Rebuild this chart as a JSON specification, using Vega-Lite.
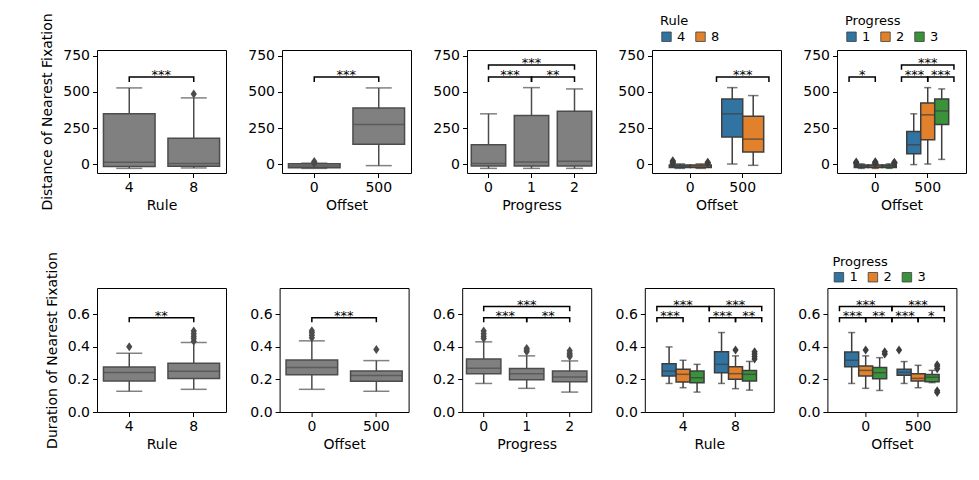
{
"$schema":"https://vega.github.io/schema/vega-lite/v6.json",
"background":"white",
"padding":{"left":40,"top":12,"right":5,"bottom":5},
"config":{
 "font":"DejaVu Sans",
 "view":{"stroke":"black","strokeWidth":1},
 "axis":{"grid":false,"domain":false,"tickColor":"black","tickSize":4.5,"tickWidth":1,"labelColor":"black","labelFontSize":14,"labelFont":"DejaVu Sans","titleFont":"DejaVu Sans","titleFontSize":14,"titleFontWeight":"normal","titleColor":"black","labelPadding":3,"labelAngle":0},
 "axisY":{"titlePadding":8},
 "axisX":{"titlePadding":4},
 "legend":{"orient":"none","direction":"horizontal","titleOrient":"top","titleFont":"DejaVu Sans","labelFont":"DejaVu Sans","titleFontSize":13,"titleFontWeight":"normal","titleColor":"black","labelFontSize":13,"labelColor":"black","symbolType":"square","symbolSize":90,"symbolStrokeColor":"#3d3d3d","symbolStrokeWidth":0.8,"columnPadding":8,"labelOffset":4,"titlePadding":2}
},
"datasets":{
 "box":[
  {"p":"t1","c":"4","lo":-28,"q1":-15,"med":15,"q3":349,"hi":528},
  {"p":"t1","c":"8","lo":-25,"q1":-14,"med":5,"q3":181,"hi":459},
  {"p":"t2","c":"0","lo":-28,"q1":-24,"med":-12,"q3":4,"hi":8},
  {"p":"t2","c":"500","lo":-9,"q1":138,"med":275,"q3":390,"hi":528},
  {"p":"t3","c":"0","lo":-28,"q1":-12,"med":5,"q3":135,"hi":349},
  {"p":"t3","c":"1","lo":-28,"q1":-12,"med":16,"q3":337,"hi":530},
  {"p":"t3","c":"2","lo":-28,"q1":-12,"med":21,"q3":367,"hi":521},
  {"p":"t4","c":"0","h":"4","lo":-28,"q1":-22,"med":-12,"q3":-4,"hi":3},
  {"p":"t4","c":"0","h":"8","lo":-28,"q1":-22,"med":-12,"q3":-4,"hi":3},
  {"p":"t4","c":"500","h":"4","lo":2,"q1":188,"med":349,"q3":452,"hi":530},
  {"p":"t4","c":"500","h":"8","lo":-7,"q1":85,"med":174,"q3":333,"hi":475},
  {"p":"t5","c":"0","h":"1","lo":-28,"q1":-22,"med":-12,"q3":-4,"hi":3},
  {"p":"t5","c":"0","h":"2","lo":-28,"q1":-22,"med":-12,"q3":-4,"hi":3},
  {"p":"t5","c":"0","h":"3","lo":-28,"q1":-22,"med":-12,"q3":-4,"hi":3},
  {"p":"t5","c":"500","h":"1","lo":-2,"q1":73,"med":135,"q3":227,"hi":349},
  {"p":"t5","c":"500","h":"2","lo":2,"q1":170,"med":342,"q3":424,"hi":530},
  {"p":"t5","c":"500","h":"3","lo":34,"q1":275,"med":369,"q3":452,"hi":521},
  {"p":"b1","c":"4","lo":0.127,"q1":0.19,"med":0.242,"q3":0.276,"hi":0.36},
  {"p":"b1","c":"8","lo":0.139,"q1":0.205,"med":0.25,"q3":0.299,"hi":0.426},
  {"p":"b2","c":"0","lo":0.139,"q1":0.229,"med":0.272,"q3":0.319,"hi":0.436},
  {"p":"b2","c":"500","lo":0.127,"q1":0.188,"med":0.223,"q3":0.252,"hi":0.315},
  {"p":"b3","c":"0","lo":0.175,"q1":0.235,"med":0.268,"q3":0.325,"hi":0.43},
  {"p":"b3","c":"1","lo":0.145,"q1":0.197,"med":0.235,"q3":0.266,"hi":0.344},
  {"p":"b3","c":"2","lo":0.122,"q1":0.186,"med":0.214,"q3":0.251,"hi":0.313},
  {"p":"b4","c":"4","h":"1","lo":0.175,"q1":0.221,"med":0.251,"q3":0.296,"hi":0.399},
  {"p":"b4","c":"4","h":"2","lo":0.149,"q1":0.184,"med":0.231,"q3":0.262,"hi":0.317},
  {"p":"b4","c":"4","h":"3","lo":0.122,"q1":0.18,"med":0.21,"q3":0.251,"hi":0.292},
  {"p":"b4","c":"8","h":"1","lo":0.175,"q1":0.241,"med":0.292,"q3":0.37,"hi":0.487},
  {"p":"b4","c":"8","h":"2","lo":0.143,"q1":0.2,"med":0.235,"q3":0.278,"hi":0.344},
  {"p":"b4","c":"8","h":"3","lo":0.134,"q1":0.19,"med":0.231,"q3":0.255,"hi":0.31},
  {"p":"b5","c":"0","h":"1","lo":0.175,"q1":0.278,"med":0.317,"q3":0.368,"hi":0.487},
  {"p":"b5","c":"0","h":"2","lo":0.145,"q1":0.221,"med":0.255,"q3":0.282,"hi":0.344},
  {"p":"b5","c":"0","h":"3","lo":0.132,"q1":0.204,"med":0.241,"q3":0.272,"hi":0.333},
  {"p":"b5","c":"500","h":"1","lo":0.175,"q1":0.225,"med":0.243,"q3":0.262,"hi":0.309},
  {"p":"b5","c":"500","h":"2","lo":0.149,"q1":0.19,"med":0.206,"q3":0.235,"hi":0.286},
  {"p":"b5","c":"500","h":"3","lo":0.18,"q1":0.185,"med":0.213,"q3":0.23,"hi":0.255}
 ],
 "out":[
  {"p":"t1","c":"8","v":486},
  {"p":"t2","c":"0","v":8},{"p":"t2","c":"0","v":13},{"p":"t2","c":"0","v":19},
  {"p":"t4","c":"0","h":"4","v":6},{"p":"t4","c":"0","h":"4","v":12},{"p":"t4","c":"0","h":"4","v":18},{"p":"t4","c":"0","h":"4","v":24},
  {"p":"t4","c":"0","h":"8","v":6},{"p":"t4","c":"0","h":"8","v":10},{"p":"t4","c":"0","h":"8","v":14},
  {"p":"t5","c":"0","h":"1","v":6},{"p":"t5","c":"0","h":"1","v":11},{"p":"t5","c":"0","h":"1","v":16},
  {"p":"t5","c":"0","h":"2","v":6},{"p":"t5","c":"0","h":"2","v":12},{"p":"t5","c":"0","h":"2","v":18},
  {"p":"t5","c":"0","h":"3","v":6},{"p":"t5","c":"0","h":"3","v":10},{"p":"t5","c":"0","h":"3","v":15},
  {"p":"b1","c":"4","v":0.4},
  {"p":"b1","c":"8","v":0.434},{"p":"b1","c":"8","v":0.45},{"p":"b1","c":"8","v":0.465},{"p":"b1","c":"8","v":0.48},{"p":"b1","c":"8","v":0.497},
  {"p":"b2","c":"0","v":0.455},{"p":"b2","c":"0","v":0.47},{"p":"b2","c":"0","v":0.485},{"p":"b2","c":"0","v":0.498},
  {"p":"b2","c":"500","v":0.383},
  {"p":"b3","c":"0","v":0.45},{"p":"b3","c":"0","v":0.465},{"p":"b3","c":"0","v":0.48},{"p":"b3","c":"0","v":0.497},
  {"p":"b3","c":"1","v":0.37},{"p":"b3","c":"1","v":0.38},{"p":"b3","c":"1","v":0.39},
  {"p":"b3","c":"2","v":0.34},{"p":"b3","c":"2","v":0.35},{"p":"b3","c":"2","v":0.36},{"p":"b3","c":"2","v":0.375},
  {"p":"b4","c":"8","h":"2","v":0.38},
  {"p":"b4","c":"8","h":"3","v":0.325},{"p":"b4","c":"8","h":"3","v":0.34},{"p":"b4","c":"8","h":"3","v":0.355},{"p":"b4","c":"8","h":"3","v":0.37},
  {"p":"b5","c":"0","h":"2","v":0.38},
  {"p":"b5","c":"0","h":"3","v":0.355},{"p":"b5","c":"0","h":"3","v":0.37},
  {"p":"b5","c":"500","h":"1","v":0.38},
  {"p":"b5","c":"500","h":"3","v":0.265},{"p":"b5","c":"500","h":"3","v":0.28},{"p":"b5","c":"500","h":"3","v":0.29},{"p":"b5","c":"500","h":"3","v":0.13},{"p":"b5","c":"500","h":"3","v":0.12}
 ],
 "brk":[
  {"p":"t1","b":"a","c":"4","v":569,"o":0},{"p":"t1","b":"a","c":"4","v":603,"o":1},{"p":"t1","b":"a","c":"8","v":603,"o":2},{"p":"t1","b":"a","c":"8","v":569,"o":3},
  {"p":"t2","b":"a","c":"0","v":569,"o":0},{"p":"t2","b":"a","c":"0","v":603,"o":1},{"p":"t2","b":"a","c":"500","v":603,"o":2},{"p":"t2","b":"a","c":"500","v":569,"o":3},
  {"p":"t3","b":"a","c":"0","v":569,"o":0},{"p":"t3","b":"a","c":"0","v":603,"o":1},{"p":"t3","b":"a","c":"1","v":603,"o":2},{"p":"t3","b":"a","c":"1","v":569,"o":3},
  {"p":"t3","b":"b","c":"1","v":569,"o":0},{"p":"t3","b":"b","c":"1","v":603,"o":1},{"p":"t3","b":"b","c":"2","v":603,"o":2},{"p":"t3","b":"b","c":"2","v":569,"o":3},
  {"p":"t3","b":"c","c":"0","v":654,"o":0},{"p":"t3","b":"c","c":"0","v":686,"o":1},{"p":"t3","b":"c","c":"2","v":686,"o":2},{"p":"t3","b":"c","c":"2","v":654,"o":3},
  {"p":"t4","b":"a","c":"500","h":"4","v":569,"o":0},{"p":"t4","b":"a","c":"500","h":"4","v":603,"o":1},{"p":"t4","b":"a","c":"500","h":"8","v":603,"o":2},{"p":"t4","b":"a","c":"500","h":"8","v":569,"o":3},
  {"p":"t5","b":"a","c":"0","h":"1","v":569,"o":0},{"p":"t5","b":"a","c":"0","h":"1","v":603,"o":1},{"p":"t5","b":"a","c":"0","h":"2","v":603,"o":2},{"p":"t5","b":"a","c":"0","h":"2","v":569,"o":3},
  {"p":"t5","b":"b","c":"500","h":"1","v":569,"o":0},{"p":"t5","b":"b","c":"500","h":"1","v":603,"o":1},{"p":"t5","b":"b","c":"500","h":"2","v":603,"o":2},{"p":"t5","b":"b","c":"500","h":"2","v":569,"o":3},
  {"p":"t5","b":"c","c":"500","h":"2","v":569,"o":0},{"p":"t5","b":"c","c":"500","h":"2","v":603,"o":1},{"p":"t5","b":"c","c":"500","h":"3","v":603,"o":2},{"p":"t5","b":"c","c":"500","h":"3","v":569,"o":3},
  {"p":"t5","b":"d","c":"500","h":"1","v":654,"o":0},{"p":"t5","b":"d","c":"500","h":"1","v":686,"o":1},{"p":"t5","b":"d","c":"500","h":"3","v":686,"o":2},{"p":"t5","b":"d","c":"500","h":"3","v":654,"o":3},
  {"p":"b1","b":"a","c":"4","v":0.55,"o":0},{"p":"b1","b":"a","c":"4","v":0.578,"o":1},{"p":"b1","b":"a","c":"8","v":0.578,"o":2},{"p":"b1","b":"a","c":"8","v":0.55,"o":3},
  {"p":"b2","b":"a","c":"0","v":0.55,"o":0},{"p":"b2","b":"a","c":"0","v":0.578,"o":1},{"p":"b2","b":"a","c":"500","v":0.578,"o":2},{"p":"b2","b":"a","c":"500","v":0.55,"o":3},
  {"p":"b3","b":"a","c":"0","v":0.55,"o":0},{"p":"b3","b":"a","c":"0","v":0.578,"o":1},{"p":"b3","b":"a","c":"1","v":0.578,"o":2},{"p":"b3","b":"a","c":"1","v":0.55,"o":3},
  {"p":"b3","b":"b","c":"1","v":0.55,"o":0},{"p":"b3","b":"b","c":"1","v":0.578,"o":1},{"p":"b3","b":"b","c":"2","v":0.578,"o":2},{"p":"b3","b":"b","c":"2","v":0.55,"o":3},
  {"p":"b3","b":"c","c":"0","v":0.618,"o":0},{"p":"b3","b":"c","c":"0","v":0.646,"o":1},{"p":"b3","b":"c","c":"2","v":0.646,"o":2},{"p":"b3","b":"c","c":"2","v":0.618,"o":3},
  {"p":"b4","b":"a","c":"4","h":"1","v":0.55,"o":0},{"p":"b4","b":"a","c":"4","h":"1","v":0.578,"o":1},{"p":"b4","b":"a","c":"4","h":"2","v":0.578,"o":2},{"p":"b4","b":"a","c":"4","h":"2","v":0.55,"o":3},
  {"p":"b4","b":"b","c":"4","h":"1","v":0.618,"o":0},{"p":"b4","b":"b","c":"4","h":"1","v":0.646,"o":1},{"p":"b4","b":"b","c":"4","h":"3","v":0.646,"o":2},{"p":"b4","b":"b","c":"4","h":"3","v":0.618,"o":3},
  {"p":"b4","b":"c","c":"8","h":"1","v":0.55,"o":0},{"p":"b4","b":"c","c":"8","h":"1","v":0.578,"o":1},{"p":"b4","b":"c","c":"8","h":"2","v":0.578,"o":2},{"p":"b4","b":"c","c":"8","h":"2","v":0.55,"o":3},
  {"p":"b4","b":"d","c":"8","h":"2","v":0.55,"o":0},{"p":"b4","b":"d","c":"8","h":"2","v":0.578,"o":1},{"p":"b4","b":"d","c":"8","h":"3","v":0.578,"o":2},{"p":"b4","b":"d","c":"8","h":"3","v":0.55,"o":3},
  {"p":"b4","b":"e","c":"8","h":"1","v":0.618,"o":0},{"p":"b4","b":"e","c":"8","h":"1","v":0.646,"o":1},{"p":"b4","b":"e","c":"8","h":"3","v":0.646,"o":2},{"p":"b4","b":"e","c":"8","h":"3","v":0.618,"o":3},
  {"p":"b5","b":"a","c":"0","h":"1","v":0.55,"o":0},{"p":"b5","b":"a","c":"0","h":"1","v":0.578,"o":1},{"p":"b5","b":"a","c":"0","h":"2","v":0.578,"o":2},{"p":"b5","b":"a","c":"0","h":"2","v":0.55,"o":3},
  {"p":"b5","b":"b","c":"0","h":"2","v":0.55,"o":0},{"p":"b5","b":"b","c":"0","h":"2","v":0.578,"o":1},{"p":"b5","b":"b","c":"0","h":"3","v":0.578,"o":2},{"p":"b5","b":"b","c":"0","h":"3","v":0.55,"o":3},
  {"p":"b5","b":"c","c":"0","h":"1","v":0.618,"o":0},{"p":"b5","b":"c","c":"0","h":"1","v":0.646,"o":1},{"p":"b5","b":"c","c":"0","h":"3","v":0.646,"o":2},{"p":"b5","b":"c","c":"0","h":"3","v":0.618,"o":3},
  {"p":"b5","b":"d","c":"500","h":"1","v":0.55,"o":0},{"p":"b5","b":"d","c":"500","h":"1","v":0.578,"o":1},{"p":"b5","b":"d","c":"500","h":"2","v":0.578,"o":2},{"p":"b5","b":"d","c":"500","h":"2","v":0.55,"o":3},
  {"p":"b5","b":"e","c":"500","h":"2","v":0.55,"o":0},{"p":"b5","b":"e","c":"500","h":"2","v":0.578,"o":1},{"p":"b5","b":"e","c":"500","h":"3","v":0.578,"o":2},{"p":"b5","b":"e","c":"500","h":"3","v":0.55,"o":3},
  {"p":"b5","b":"f","c":"500","h":"1","v":0.618,"o":0},{"p":"b5","b":"f","c":"500","h":"1","v":0.646,"o":1},{"p":"b5","b":"f","c":"500","h":"3","v":0.646,"o":2},{"p":"b5","b":"f","c":"500","h":"3","v":0.618,"o":3}
 ],
 "star":[
  {"p":"t1","c":"4","pr":"4-8","lab":"***","v":603},
  {"p":"t2","c":"0","pr":"0-500","lab":"***","v":603},
  {"p":"t3","c":"0","pr":"0-1","lab":"***","v":603},
  {"p":"t3","c":"1","pr":"1-2","lab":"**","v":603},
  {"p":"t3","c":"1","pr":"0-2","lab":"***","v":686},
  {"p":"t4","c":"500","pr":"4-8","lab":"***","v":603},
  {"p":"t5","c":"0","pr":"1-2","lab":"*","v":603},
  {"p":"t5","c":"500","pr":"1-2","lab":"***","v":603},
  {"p":"t5","c":"500","pr":"2-3","lab":"***","v":603},
  {"p":"t5","c":"500","pr":"1-3","lab":"***","v":686},
  {"p":"b1","c":"4","pr":"4-8","lab":"**","v":0.578},
  {"p":"b2","c":"0","pr":"0-500","lab":"***","v":0.578},
  {"p":"b3","c":"0","pr":"0-1","lab":"***","v":0.578},
  {"p":"b3","c":"1","pr":"1-2","lab":"**","v":0.578},
  {"p":"b3","c":"1","pr":"0-2","lab":"***","v":0.646},
  {"p":"b4","c":"4","pr":"1-2","lab":"***","v":0.578},
  {"p":"b4","c":"4","pr":"1-3","lab":"***","v":0.646},
  {"p":"b4","c":"8","pr":"1-2","lab":"***","v":0.578},
  {"p":"b4","c":"8","pr":"2-3","lab":"**","v":0.578},
  {"p":"b4","c":"8","pr":"1-3","lab":"***","v":0.646},
  {"p":"b5","c":"0","pr":"1-2","lab":"***","v":0.578},
  {"p":"b5","c":"0","pr":"2-3","lab":"**","v":0.578},
  {"p":"b5","c":"0","pr":"1-3","lab":"***","v":0.646},
  {"p":"b5","c":"500","pr":"1-2","lab":"***","v":0.578},
  {"p":"b5","c":"500","pr":"2-3","lab":"*","v":0.578},
  {"p":"b5","c":"500","pr":"1-3","lab":"***","v":0.646}
 ]
},
"resolve":{"scale":{"color":"independent"},"legend":{"color":"independent"}},
"spacing":38,
"vconcat":[
{"spacing":20,"resolve":{"scale":{"color":"independent"},"legend":{"color":"independent"}},
 "hconcat":[
 {"width":129,"height":123,"layer":[
  {"data":{"name":"box"},"transform":[{"filter":"datum.p=='t1'"}],
   "encoding":{"x":{"field":"c","type":"nominal","scale":{"paddingInner":0,"paddingOuter":0},"title":"Rule"}},
   "layer":[
    {"mark":{"type":"rule","color":"#4c4c4c","strokeWidth":1.5},"encoding":{"y":{"field":"lo","type":"quantitative","scale":{"domain":[-60,790],"nice":false,"zero":false},"axis":{"values":[0,250,500,750]},"title":"Distance of Nearest Fixation"},"y2":{"field":"hi"}}},
    {"mark":{"type":"bar","fill":"#808080","stroke":"#4c4c4c","strokeWidth":1.5,"width":{"band":0.8}},"encoding":{"y":{"field":"q1","type":"quantitative","scale":{"domain":[-60,790],"nice":false,"zero":false}},"y2":{"field":"q3"}}},
    {"mark":{"type":"tick","color":"#4c4c4c","thickness":1.5,"size":51},"encoding":{"y":{"field":"med","type":"quantitative","scale":{"domain":[-60,790],"nice":false,"zero":false}}}},
    {"mark":{"type":"tick","color":"#4c4c4c","thickness":1.5,"size":26},"encoding":{"y":{"field":"lo","type":"quantitative","scale":{"domain":[-60,790],"nice":false,"zero":false}}}},
    {"mark":{"type":"tick","color":"#4c4c4c","thickness":1.5,"size":26},"encoding":{"y":{"field":"hi","type":"quantitative","scale":{"domain":[-60,790],"nice":false,"zero":false}}}}
   ]},
  {"data":{"name":"out"},"transform":[{"filter":"datum.p=='t1'"}],"mark":{"type":"point","shape":"M0,-1L0.7,0L0,1L-0.7,0Z","filled":true,"opacity":1,"color":"#4c4c4c","size":80},"encoding":{"x":{"field":"c","type":"nominal"},"y":{"field":"v","type":"quantitative","scale":{"domain":[-60,790],"nice":false,"zero":false}}}},
  {"data":{"name":"brk"},"transform":[{"filter":"datum.p=='t1'"}],"mark":{"type":"line","color":"black","strokeWidth":1.5},"encoding":{"x":{"field":"c","type":"nominal"},"y":{"field":"v","type":"quantitative","scale":{"domain":[-60,790],"nice":false,"zero":false}},"detail":{"field":"b"},"order":{"field":"o"}}},
  {"data":{"name":"star"},"transform":[{"filter":"datum.p=='t1'"}],"mark":{"type":"text","dx":32,"dy":2,"baseline":"alphabetic","fontSize":13,"color":"black"},"encoding":{"x":{"field":"c","type":"nominal"},"y":{"field":"v","type":"quantitative","scale":{"domain":[-60,790],"nice":false,"zero":false}},"text":{"field":"lab"}}}
 ]},
 {"width":129,"height":123,"layer":[
  {"data":{"name":"box"},"transform":[{"filter":"datum.p=='t2'"}],
   "encoding":{"x":{"field":"c","type":"nominal","scale":{"paddingInner":0,"paddingOuter":0},"title":"Offset"}},
   "layer":[
    {"mark":{"type":"rule","color":"#4c4c4c","strokeWidth":1.5},"encoding":{"y":{"field":"lo","type":"quantitative","scale":{"domain":[-60,790],"nice":false,"zero":false},"axis":{"values":[0,250,500,750]},"title":null},"y2":{"field":"hi"}}},
    {"mark":{"type":"bar","fill":"#808080","stroke":"#4c4c4c","strokeWidth":1.5,"width":{"band":0.8}},"encoding":{"y":{"field":"q1","type":"quantitative","scale":{"domain":[-60,790],"nice":false,"zero":false}},"y2":{"field":"q3"}}},
    {"mark":{"type":"tick","color":"#4c4c4c","thickness":1.5,"size":51},"encoding":{"y":{"field":"med","type":"quantitative","scale":{"domain":[-60,790],"nice":false,"zero":false}}}},
    {"mark":{"type":"tick","color":"#4c4c4c","thickness":1.5,"size":26},"encoding":{"y":{"field":"lo","type":"quantitative","scale":{"domain":[-60,790],"nice":false,"zero":false}}}},
    {"mark":{"type":"tick","color":"#4c4c4c","thickness":1.5,"size":26},"encoding":{"y":{"field":"hi","type":"quantitative","scale":{"domain":[-60,790],"nice":false,"zero":false}}}}
   ]},
  {"data":{"name":"out"},"transform":[{"filter":"datum.p=='t2'"}],"mark":{"type":"point","shape":"M0,-1L0.7,0L0,1L-0.7,0Z","filled":true,"opacity":1,"color":"#4c4c4c","size":80},"encoding":{"x":{"field":"c","type":"nominal"},"y":{"field":"v","type":"quantitative","scale":{"domain":[-60,790],"nice":false,"zero":false}}}},
  {"data":{"name":"brk"},"transform":[{"filter":"datum.p=='t2'"}],"mark":{"type":"line","color":"black","strokeWidth":1.5},"encoding":{"x":{"field":"c","type":"nominal"},"y":{"field":"v","type":"quantitative","scale":{"domain":[-60,790],"nice":false,"zero":false}},"detail":{"field":"b"},"order":{"field":"o"}}},
  {"data":{"name":"star"},"transform":[{"filter":"datum.p=='t2'"}],"mark":{"type":"text","dx":32,"dy":2,"baseline":"alphabetic","fontSize":13,"color":"black"},"encoding":{"x":{"field":"c","type":"nominal"},"y":{"field":"v","type":"quantitative","scale":{"domain":[-60,790],"nice":false,"zero":false}},"text":{"field":"lab"}}}
 ]},
 {"width":129,"height":123,"layer":[
  {"data":{"name":"box"},"transform":[{"filter":"datum.p=='t3'"}],
   "encoding":{"x":{"field":"c","type":"nominal","scale":{"paddingInner":0,"paddingOuter":0},"title":"Progress"}},
   "layer":[
    {"mark":{"type":"rule","color":"#4c4c4c","strokeWidth":1.5},"encoding":{"y":{"field":"lo","type":"quantitative","scale":{"domain":[-60,790],"nice":false,"zero":false},"axis":{"values":[0,250,500,750]},"title":null},"y2":{"field":"hi"}}},
    {"mark":{"type":"bar","fill":"#808080","stroke":"#4c4c4c","strokeWidth":1.5,"width":{"band":0.8}},"encoding":{"y":{"field":"q1","type":"quantitative","scale":{"domain":[-60,790],"nice":false,"zero":false}},"y2":{"field":"q3"}}},
    {"mark":{"type":"tick","color":"#4c4c4c","thickness":1.5,"size":34},"encoding":{"y":{"field":"med","type":"quantitative","scale":{"domain":[-60,790],"nice":false,"zero":false}}}},
    {"mark":{"type":"tick","color":"#4c4c4c","thickness":1.5,"size":17},"encoding":{"y":{"field":"lo","type":"quantitative","scale":{"domain":[-60,790],"nice":false,"zero":false}}}},
    {"mark":{"type":"tick","color":"#4c4c4c","thickness":1.5,"size":17},"encoding":{"y":{"field":"hi","type":"quantitative","scale":{"domain":[-60,790],"nice":false,"zero":false}}}}
   ]},
  {"data":{"name":"brk"},"transform":[{"filter":"datum.p=='t3'"}],"mark":{"type":"line","color":"black","strokeWidth":1.5},"encoding":{"x":{"field":"c","type":"nominal"},"y":{"field":"v","type":"quantitative","scale":{"domain":[-60,790],"nice":false,"zero":false}},"detail":{"field":"b"},"order":{"field":"o"}}},
  {"data":{"name":"star"},"transform":[{"filter":"datum.p=='t3' && datum.pr!='0-2'"}],"mark":{"type":"text","dx":21.5,"dy":2,"baseline":"alphabetic","fontSize":13,"color":"black"},"encoding":{"x":{"field":"c","type":"nominal"},"y":{"field":"v","type":"quantitative","scale":{"domain":[-60,790],"nice":false,"zero":false}},"text":{"field":"lab"}}},
  {"data":{"name":"star"},"transform":[{"filter":"datum.p=='t3' && datum.pr=='0-2'"}],"mark":{"type":"text","dy":2,"baseline":"alphabetic","fontSize":13,"color":"black"},"encoding":{"x":{"field":"c","type":"nominal"},"y":{"field":"v","type":"quantitative","scale":{"domain":[-60,790],"nice":false,"zero":false}},"text":{"field":"lab"}}}
 ]},
 {"width":129,"height":123,"resolve":{"scale":{"xOffset":"independent"}},"layer":[
  {"data":{"name":"box"},"transform":[{"filter":"datum.p=='t4'"}],
   "encoding":{"x":{"field":"c","type":"nominal","scale":{"paddingInner":0,"paddingOuter":0.23},"title":"Offset"},
    "xOffset":{"field":"h","type":"nominal","scale":{"domain":["4","8"],"paddingInner":0,"paddingOuter":0.25}}},
   "layer":[
    {"mark":{"type":"rule","color":"#3f3f3f","strokeWidth":1.5},"encoding":{"y":{"field":"lo","type":"quantitative","scale":{"domain":[-60,790],"nice":false,"zero":false},"axis":{"values":[0,250,500,750]},"title":null},"y2":{"field":"hi"}}},
    {"mark":{"type":"bar","stroke":"#3f3f3f","strokeWidth":1.5,"opacity":1},"encoding":{"y":{"field":"q1","type":"quantitative","scale":{"domain":[-60,790],"nice":false,"zero":false}},"y2":{"field":"q3"},
      "color":{"field":"h","type":"nominal","scale":{"domain":["4","8"],"range":["#3274a1","#e1812c"]},"legend":{"title":"Rule","legendX":8,"legendY":-35}}}},
    {"mark":{"type":"tick","color":"#3f3f3f","thickness":1.5,"size":21},"encoding":{"y":{"field":"med","type":"quantitative","scale":{"domain":[-60,790],"nice":false,"zero":false}}}},
    {"mark":{"type":"tick","color":"#3f3f3f","thickness":1.5,"size":10.5},"encoding":{"y":{"field":"lo","type":"quantitative","scale":{"domain":[-60,790],"nice":false,"zero":false}}}},
    {"mark":{"type":"tick","color":"#3f3f3f","thickness":1.5,"size":10.5},"encoding":{"y":{"field":"hi","type":"quantitative","scale":{"domain":[-60,790],"nice":false,"zero":false}}}}
   ]},
  {"data":{"name":"out"},"transform":[{"filter":"datum.p=='t4'"}],"mark":{"type":"point","shape":"M0,-1L0.7,0L0,1L-0.7,0Z","filled":true,"opacity":1,"color":"#3f3f3f","size":80},"encoding":{"x":{"field":"c","type":"nominal","scale":{"paddingInner":0,"paddingOuter":0.23}},"xOffset":{"field":"h","type":"nominal","scale":{"domain":["4","8"],"paddingInner":0,"paddingOuter":0.25}},"y":{"field":"v","type":"quantitative","scale":{"domain":[-60,790],"nice":false,"zero":false}}}},
  {"data":{"name":"brk"},"transform":[{"filter":"datum.p=='t4'"}],"mark":{"type":"line","color":"black","strokeWidth":1.5},"encoding":{"x":{"field":"c","type":"nominal","scale":{"paddingInner":0,"paddingOuter":0.23}},"xOffset":{"field":"h","type":"nominal","scale":{"domain":["4","8"],"paddingInner":0,"paddingOuter":0}},"y":{"field":"v","type":"quantitative","scale":{"domain":[-60,790],"nice":false,"zero":false}},"detail":{"field":"b"},"order":{"field":"o"}}},
  {"data":{"name":"star"},"transform":[{"filter":"datum.p=='t4'"}],"mark":{"type":"text","dy":2,"baseline":"alphabetic","fontSize":13,"color":"black"},"encoding":{"x":{"field":"c","type":"nominal","scale":{"paddingInner":0,"paddingOuter":0.23}},"y":{"field":"v","type":"quantitative","scale":{"domain":[-60,790],"nice":false,"zero":false}},"text":{"field":"lab"}}}
 ]},
 {"width":129,"height":123,"resolve":{"scale":{"xOffset":"independent"}},"layer":[
  {"data":{"name":"box"},"transform":[{"filter":"datum.p=='t5'"}],
   "encoding":{"x":{"field":"c","type":"nominal","scale":{"paddingInner":0,"paddingOuter":0.23},"title":"Offset"},
    "xOffset":{"field":"h","type":"nominal","scale":{"domain":["1","2","3"],"paddingInner":0,"paddingOuter":0.375}}},
   "layer":[
    {"mark":{"type":"rule","color":"#3d3d3d","strokeWidth":1.5},"encoding":{"y":{"field":"lo","type":"quantitative","scale":{"domain":[-60,790],"nice":false,"zero":false},"axis":{"values":[0,250,500,750]},"title":null},"y2":{"field":"hi"}}},
    {"mark":{"type":"bar","stroke":"#3d3d3d","strokeWidth":1.5,"opacity":1},"encoding":{"y":{"field":"q1","type":"quantitative","scale":{"domain":[-60,790],"nice":false,"zero":false}},"y2":{"field":"q3"},
      "color":{"field":"h","type":"nominal","scale":{"domain":["1","2","3"],"range":["#3274a1","#e1812c","#3a923a"]},"legend":{"title":"Progress","legendX":8,"legendY":-35}}}},
    {"mark":{"type":"tick","color":"#3d3d3d","thickness":1.5,"size":14},"encoding":{"y":{"field":"med","type":"quantitative","scale":{"domain":[-60,790],"nice":false,"zero":false}}}},
    {"mark":{"type":"tick","color":"#3d3d3d","thickness":1.5,"size":7},"encoding":{"y":{"field":"lo","type":"quantitative","scale":{"domain":[-60,790],"nice":false,"zero":false}}}},
    {"mark":{"type":"tick","color":"#3d3d3d","thickness":1.5,"size":7},"encoding":{"y":{"field":"hi","type":"quantitative","scale":{"domain":[-60,790],"nice":false,"zero":false}}}}
   ]},
  {"data":{"name":"out"},"transform":[{"filter":"datum.p=='t5'"}],"mark":{"type":"point","shape":"M0,-1L0.7,0L0,1L-0.7,0Z","filled":true,"opacity":1,"color":"#3d3d3d","size":80},"encoding":{"x":{"field":"c","type":"nominal","scale":{"paddingInner":0,"paddingOuter":0.23}},"xOffset":{"field":"h","type":"nominal","scale":{"domain":["1","2","3"],"paddingInner":0,"paddingOuter":0.375}},"y":{"field":"v","type":"quantitative","scale":{"domain":[-60,790],"nice":false,"zero":false}}}},
  {"data":{"name":"brk"},"transform":[{"filter":"datum.p=='t5'"}],"mark":{"type":"line","color":"black","strokeWidth":1.5},"encoding":{"x":{"field":"c","type":"nominal","scale":{"paddingInner":0,"paddingOuter":0.23}},"xOffset":{"field":"h","type":"nominal","scale":{"domain":["1","2","3"],"paddingInner":0,"paddingOuter":0}},"y":{"field":"v","type":"quantitative","scale":{"domain":[-60,790],"nice":false,"zero":false}},"detail":{"field":"b"},"order":{"field":"o"}}},
  {"data":{"name":"star"},"transform":[{"filter":"datum.p=='t5'"}],"mark":{"type":"text","dy":2,"baseline":"alphabetic","fontSize":13,"color":"black"},"encoding":{"x":{"field":"c","type":"nominal","scale":{"paddingInner":0,"paddingOuter":0.23}},"xOffset":{"field":"pr","type":"nominal","scale":{"domain":["1-2","1-3","2-3"],"paddingInner":0,"paddingOuter":1.5}},"y":{"field":"v","type":"quantitative","scale":{"domain":[-60,790],"nice":false,"zero":false}},"text":{"field":"lab"}}}
 ]}
]},
{"spacing":21.6,"resolve":{"scale":{"color":"independent"},"legend":{"color":"independent"}},
 "hconcat":[
 {"width":129,"height":124,"layer":[
  {"data":{"name":"box"},"transform":[{"filter":"datum.p=='b1'"}],
   "encoding":{"x":{"field":"c","type":"nominal","scale":{"paddingInner":0,"paddingOuter":0},"title":"Rule"}},
   "layer":[
    {"mark":{"type":"rule","color":"#4c4c4c","strokeWidth":1.5},"encoding":{"y":{"field":"lo","type":"quantitative","scale":{"domain":[0,0.76],"nice":false,"zero":false},"axis":{"values":[0,0.2,0.4,0.6],"format":".1f"},"title":"Duration of Nearest Fixation"},"y2":{"field":"hi"}}},
    {"mark":{"type":"bar","fill":"#808080","stroke":"#4c4c4c","strokeWidth":1.5,"width":{"band":0.8}},"encoding":{"y":{"field":"q1","type":"quantitative","scale":{"domain":[0,0.76],"nice":false,"zero":false}},"y2":{"field":"q3"}}},
    {"mark":{"type":"tick","color":"#4c4c4c","thickness":1.5,"size":51},"encoding":{"y":{"field":"med","type":"quantitative","scale":{"domain":[0,0.76],"nice":false,"zero":false}}}},
    {"mark":{"type":"tick","color":"#4c4c4c","thickness":1.5,"size":26},"encoding":{"y":{"field":"lo","type":"quantitative","scale":{"domain":[0,0.76],"nice":false,"zero":false}}}},
    {"mark":{"type":"tick","color":"#4c4c4c","thickness":1.5,"size":26},"encoding":{"y":{"field":"hi","type":"quantitative","scale":{"domain":[0,0.76],"nice":false,"zero":false}}}}
   ]},
  {"data":{"name":"out"},"transform":[{"filter":"datum.p=='b1'"}],"mark":{"type":"point","shape":"M0,-1L0.7,0L0,1L-0.7,0Z","filled":true,"opacity":1,"color":"#4c4c4c","size":80},"encoding":{"x":{"field":"c","type":"nominal"},"y":{"field":"v","type":"quantitative","scale":{"domain":[0,0.76],"nice":false,"zero":false}}}},
  {"data":{"name":"brk"},"transform":[{"filter":"datum.p=='b1'"}],"mark":{"type":"line","color":"black","strokeWidth":1.5},"encoding":{"x":{"field":"c","type":"nominal"},"y":{"field":"v","type":"quantitative","scale":{"domain":[0,0.76],"nice":false,"zero":false}},"detail":{"field":"b"},"order":{"field":"o"}}},
  {"data":{"name":"star"},"transform":[{"filter":"datum.p=='b1'"}],"mark":{"type":"text","dx":32,"dy":2,"baseline":"alphabetic","fontSize":13,"color":"black"},"encoding":{"x":{"field":"c","type":"nominal"},"y":{"field":"v","type":"quantitative","scale":{"domain":[0,0.76],"nice":false,"zero":false}},"text":{"field":"lab"}}}
 ]},
 {"width":129,"height":124,"layer":[
  {"data":{"name":"box"},"transform":[{"filter":"datum.p=='b2'"}],
   "encoding":{"x":{"field":"c","type":"nominal","scale":{"paddingInner":0,"paddingOuter":0},"title":"Offset"}},
   "layer":[
    {"mark":{"type":"rule","color":"#4c4c4c","strokeWidth":1.5},"encoding":{"y":{"field":"lo","type":"quantitative","scale":{"domain":[0,0.76],"nice":false,"zero":false},"axis":{"values":[0,0.2,0.4,0.6],"format":".1f"},"title":null},"y2":{"field":"hi"}}},
    {"mark":{"type":"bar","fill":"#808080","stroke":"#4c4c4c","strokeWidth":1.5,"width":{"band":0.8}},"encoding":{"y":{"field":"q1","type":"quantitative","scale":{"domain":[0,0.76],"nice":false,"zero":false}},"y2":{"field":"q3"}}},
    {"mark":{"type":"tick","color":"#4c4c4c","thickness":1.5,"size":51},"encoding":{"y":{"field":"med","type":"quantitative","scale":{"domain":[0,0.76],"nice":false,"zero":false}}}},
    {"mark":{"type":"tick","color":"#4c4c4c","thickness":1.5,"size":26},"encoding":{"y":{"field":"lo","type":"quantitative","scale":{"domain":[0,0.76],"nice":false,"zero":false}}}},
    {"mark":{"type":"tick","color":"#4c4c4c","thickness":1.5,"size":26},"encoding":{"y":{"field":"hi","type":"quantitative","scale":{"domain":[0,0.76],"nice":false,"zero":false}}}}
   ]},
  {"data":{"name":"out"},"transform":[{"filter":"datum.p=='b2'"}],"mark":{"type":"point","shape":"M0,-1L0.7,0L0,1L-0.7,0Z","filled":true,"opacity":1,"color":"#4c4c4c","size":80},"encoding":{"x":{"field":"c","type":"nominal"},"y":{"field":"v","type":"quantitative","scale":{"domain":[0,0.76],"nice":false,"zero":false}}}},
  {"data":{"name":"brk"},"transform":[{"filter":"datum.p=='b2'"}],"mark":{"type":"line","color":"black","strokeWidth":1.5},"encoding":{"x":{"field":"c","type":"nominal"},"y":{"field":"v","type":"quantitative","scale":{"domain":[0,0.76],"nice":false,"zero":false}},"detail":{"field":"b"},"order":{"field":"o"}}},
  {"data":{"name":"star"},"transform":[{"filter":"datum.p=='b2'"}],"mark":{"type":"text","dx":32,"dy":2,"baseline":"alphabetic","fontSize":13,"color":"black"},"encoding":{"x":{"field":"c","type":"nominal"},"y":{"field":"v","type":"quantitative","scale":{"domain":[0,0.76],"nice":false,"zero":false}},"text":{"field":"lab"}}}
 ]},
 {"width":129,"height":124,"layer":[
  {"data":{"name":"box"},"transform":[{"filter":"datum.p=='b3'"}],
   "encoding":{"x":{"field":"c","type":"nominal","scale":{"paddingInner":0,"paddingOuter":0},"title":"Progress"}},
   "layer":[
    {"mark":{"type":"rule","color":"#4c4c4c","strokeWidth":1.5},"encoding":{"y":{"field":"lo","type":"quantitative","scale":{"domain":[0,0.76],"nice":false,"zero":false},"axis":{"values":[0,0.2,0.4,0.6],"format":".1f"},"title":null},"y2":{"field":"hi"}}},
    {"mark":{"type":"bar","fill":"#808080","stroke":"#4c4c4c","strokeWidth":1.5,"width":{"band":0.8}},"encoding":{"y":{"field":"q1","type":"quantitative","scale":{"domain":[0,0.76],"nice":false,"zero":false}},"y2":{"field":"q3"}}},
    {"mark":{"type":"tick","color":"#4c4c4c","thickness":1.5,"size":34},"encoding":{"y":{"field":"med","type":"quantitative","scale":{"domain":[0,0.76],"nice":false,"zero":false}}}},
    {"mark":{"type":"tick","color":"#4c4c4c","thickness":1.5,"size":17},"encoding":{"y":{"field":"lo","type":"quantitative","scale":{"domain":[0,0.76],"nice":false,"zero":false}}}},
    {"mark":{"type":"tick","color":"#4c4c4c","thickness":1.5,"size":17},"encoding":{"y":{"field":"hi","type":"quantitative","scale":{"domain":[0,0.76],"nice":false,"zero":false}}}}
   ]},
  {"data":{"name":"out"},"transform":[{"filter":"datum.p=='b3'"}],"mark":{"type":"point","shape":"M0,-1L0.7,0L0,1L-0.7,0Z","filled":true,"opacity":1,"color":"#4c4c4c","size":80},"encoding":{"x":{"field":"c","type":"nominal"},"y":{"field":"v","type":"quantitative","scale":{"domain":[0,0.76],"nice":false,"zero":false}}}},
  {"data":{"name":"brk"},"transform":[{"filter":"datum.p=='b3'"}],"mark":{"type":"line","color":"black","strokeWidth":1.5},"encoding":{"x":{"field":"c","type":"nominal"},"y":{"field":"v","type":"quantitative","scale":{"domain":[0,0.76],"nice":false,"zero":false}},"detail":{"field":"b"},"order":{"field":"o"}}},
  {"data":{"name":"star"},"transform":[{"filter":"datum.p=='b3' && datum.pr!='0-2'"}],"mark":{"type":"text","dx":21.5,"dy":2,"baseline":"alphabetic","fontSize":13,"color":"black"},"encoding":{"x":{"field":"c","type":"nominal"},"y":{"field":"v","type":"quantitative","scale":{"domain":[0,0.76],"nice":false,"zero":false}},"text":{"field":"lab"}}},
  {"data":{"name":"star"},"transform":[{"filter":"datum.p=='b3' && datum.pr=='0-2'"}],"mark":{"type":"text","dy":2,"baseline":"alphabetic","fontSize":13,"color":"black"},"encoding":{"x":{"field":"c","type":"nominal"},"y":{"field":"v","type":"quantitative","scale":{"domain":[0,0.76],"nice":false,"zero":false}},"text":{"field":"lab"}}}
 ]},
 {"width":129,"height":124,"resolve":{"scale":{"xOffset":"independent"}},"layer":[
  {"data":{"name":"box"},"transform":[{"filter":"datum.p=='b4'"}],
   "encoding":{"x":{"field":"c","type":"nominal","scale":{"paddingInner":0,"paddingOuter":0.23},"title":"Rule"},
    "xOffset":{"field":"h","type":"nominal","scale":{"domain":["1","2","3"],"paddingInner":0,"paddingOuter":0.375}}},
   "layer":[
    {"mark":{"type":"rule","color":"#3d3d3d","strokeWidth":1.5},"encoding":{"y":{"field":"lo","type":"quantitative","scale":{"domain":[0,0.76],"nice":false,"zero":false},"axis":{"values":[0,0.2,0.4,0.6],"format":".1f"},"title":null},"y2":{"field":"hi"}}},
    {"mark":{"type":"bar","stroke":"#3d3d3d","strokeWidth":1.5,"opacity":1},"encoding":{"y":{"field":"q1","type":"quantitative","scale":{"domain":[0,0.76],"nice":false,"zero":false}},"y2":{"field":"q3"},
      "color":{"field":"h","type":"nominal","scale":{"domain":["1","2","3"],"range":["#3274a1","#e1812c","#3a923a"]},"legend":null}}},
    {"mark":{"type":"tick","color":"#3d3d3d","thickness":1.5,"size":14},"encoding":{"y":{"field":"med","type":"quantitative","scale":{"domain":[0,0.76],"nice":false,"zero":false}}}},
    {"mark":{"type":"tick","color":"#3d3d3d","thickness":1.5,"size":7},"encoding":{"y":{"field":"lo","type":"quantitative","scale":{"domain":[0,0.76],"nice":false,"zero":false}}}},
    {"mark":{"type":"tick","color":"#3d3d3d","thickness":1.5,"size":7},"encoding":{"y":{"field":"hi","type":"quantitative","scale":{"domain":[0,0.76],"nice":false,"zero":false}}}}
   ]},
  {"data":{"name":"out"},"transform":[{"filter":"datum.p=='b4'"}],"mark":{"type":"point","shape":"M0,-1L0.7,0L0,1L-0.7,0Z","filled":true,"opacity":1,"color":"#3d3d3d","size":80},"encoding":{"x":{"field":"c","type":"nominal","scale":{"paddingInner":0,"paddingOuter":0.23}},"xOffset":{"field":"h","type":"nominal","scale":{"domain":["1","2","3"],"paddingInner":0,"paddingOuter":0.375}},"y":{"field":"v","type":"quantitative","scale":{"domain":[0,0.76],"nice":false,"zero":false}}}},
  {"data":{"name":"brk"},"transform":[{"filter":"datum.p=='b4'"}],"mark":{"type":"line","color":"black","strokeWidth":1.5},"encoding":{"x":{"field":"c","type":"nominal","scale":{"paddingInner":0,"paddingOuter":0.23}},"xOffset":{"field":"h","type":"nominal","scale":{"domain":["1","2","3"],"paddingInner":0,"paddingOuter":0}},"y":{"field":"v","type":"quantitative","scale":{"domain":[0,0.76],"nice":false,"zero":false}},"detail":{"field":"b"},"order":{"field":"o"}}},
  {"data":{"name":"star"},"transform":[{"filter":"datum.p=='b4'"}],"mark":{"type":"text","dy":2,"baseline":"alphabetic","fontSize":13,"color":"black"},"encoding":{"x":{"field":"c","type":"nominal","scale":{"paddingInner":0,"paddingOuter":0.23}},"xOffset":{"field":"pr","type":"nominal","scale":{"domain":["1-2","1-3","2-3"],"paddingInner":0,"paddingOuter":1.5}},"y":{"field":"v","type":"quantitative","scale":{"domain":[0,0.76],"nice":false,"zero":false}},"text":{"field":"lab"}}}
 ]},
 {"width":129,"height":124,"resolve":{"scale":{"xOffset":"independent"}},"layer":[
  {"data":{"name":"box"},"transform":[{"filter":"datum.p=='b5'"}],
   "encoding":{"x":{"field":"c","type":"nominal","scale":{"paddingInner":0,"paddingOuter":0.23},"title":"Offset"},
    "xOffset":{"field":"h","type":"nominal","scale":{"domain":["1","2","3"],"paddingInner":0,"paddingOuter":0.375}}},
   "layer":[
    {"mark":{"type":"rule","color":"#3d3d3d","strokeWidth":1.5},"encoding":{"y":{"field":"lo","type":"quantitative","scale":{"domain":[0,0.76],"nice":false,"zero":false},"axis":{"values":[0,0.2,0.4,0.6],"format":".1f"},"title":null},"y2":{"field":"hi"}}},
    {"mark":{"type":"bar","stroke":"#3d3d3d","strokeWidth":1.5,"opacity":1},"encoding":{"y":{"field":"q1","type":"quantitative","scale":{"domain":[0,0.76],"nice":false,"zero":false}},"y2":{"field":"q3"},
      "color":{"field":"h","type":"nominal","scale":{"domain":["1","2","3"],"range":["#3274a1","#e1812c","#3a923a"]},"legend":{"title":"Progress","legendX":5,"legendY":-32.5}}}},
    {"mark":{"type":"tick","color":"#3d3d3d","thickness":1.5,"size":14},"encoding":{"y":{"field":"med","type":"quantitative","scale":{"domain":[0,0.76],"nice":false,"zero":false}}}},
    {"mark":{"type":"tick","color":"#3d3d3d","thickness":1.5,"size":7},"encoding":{"y":{"field":"lo","type":"quantitative","scale":{"domain":[0,0.76],"nice":false,"zero":false}}}},
    {"mark":{"type":"tick","color":"#3d3d3d","thickness":1.5,"size":7},"encoding":{"y":{"field":"hi","type":"quantitative","scale":{"domain":[0,0.76],"nice":false,"zero":false}}}}
   ]},
  {"data":{"name":"out"},"transform":[{"filter":"datum.p=='b5'"}],"mark":{"type":"point","shape":"M0,-1L0.7,0L0,1L-0.7,0Z","filled":true,"opacity":1,"color":"#3d3d3d","size":80},"encoding":{"x":{"field":"c","type":"nominal","scale":{"paddingInner":0,"paddingOuter":0.23}},"xOffset":{"field":"h","type":"nominal","scale":{"domain":["1","2","3"],"paddingInner":0,"paddingOuter":0.375}},"y":{"field":"v","type":"quantitative","scale":{"domain":[0,0.76],"nice":false,"zero":false}}}},
  {"data":{"name":"brk"},"transform":[{"filter":"datum.p=='b5'"}],"mark":{"type":"line","color":"black","strokeWidth":1.5},"encoding":{"x":{"field":"c","type":"nominal","scale":{"paddingInner":0,"paddingOuter":0.23}},"xOffset":{"field":"h","type":"nominal","scale":{"domain":["1","2","3"],"paddingInner":0,"paddingOuter":0}},"y":{"field":"v","type":"quantitative","scale":{"domain":[0,0.76],"nice":false,"zero":false}},"detail":{"field":"b"},"order":{"field":"o"}}},
  {"data":{"name":"star"},"transform":[{"filter":"datum.p=='b5'"}],"mark":{"type":"text","dy":2,"baseline":"alphabetic","fontSize":13,"color":"black"},"encoding":{"x":{"field":"c","type":"nominal","scale":{"paddingInner":0,"paddingOuter":0.23}},"xOffset":{"field":"pr","type":"nominal","scale":{"domain":["1-2","1-3","2-3"],"paddingInner":0,"paddingOuter":1.5}},"y":{"field":"v","type":"quantitative","scale":{"domain":[0,0.76],"nice":false,"zero":false}},"text":{"field":"lab"}}}
 ]}
]}
]
}
